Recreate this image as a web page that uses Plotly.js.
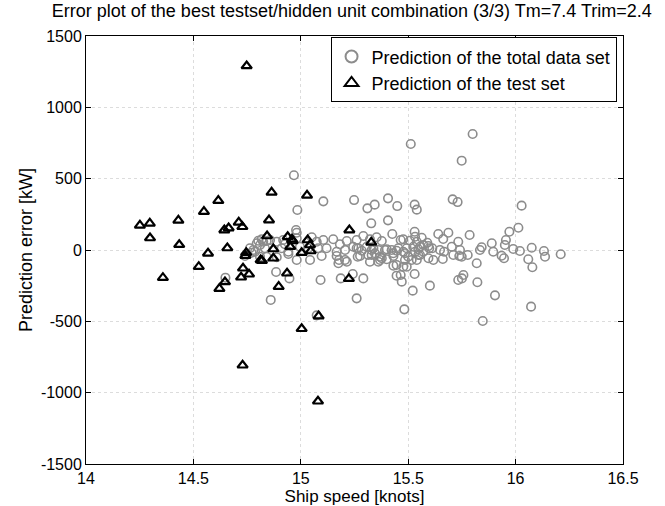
<!DOCTYPE html>
<html>
<head>
<meta charset="utf-8">
<script src="https://cdn.plot.ly/plotly-3.0.1.min.js"></script>
<style>html,body{margin:0;padding:0;background:#fff;}#chart{width:665px;height:506px;}</style>
</head>
<body>
<div id="chart"></div>
<script>
// Prediction of the total data set (ship speed [knots], prediction error [kW])
const totalX = [14.649,14.74,14.763,14.771,14.779,14.787,14.795,14.802,14.81,14.81,14.818,14.825,14.833,14.841,14.841,14.857,14.86,14.885,14.888,14.888,14.911,14.918,14.926,14.942,14.942,14.947,14.968,14.978,14.981,14.981,14.984,14.981,14.996,
15.035,15.043,15.051,15.074,15.074,15.081,15.092,15.097,15.105,15.105,15.12,15.151,15.167,15.167,15.175,15.178,15.182,15.186,15.206,15.206,15.214,15.214,15.242,15.244,15.248,15.26,15.26,15.26,15.265,15.268,15.276,15.284,15.291,15.291,15.307,15.31,15.314,15.322,15.322,15.328,15.33,15.33,15.338,15.344,15.345,15.353,15.361,15.361,15.369,15.369,15.377,15.377,15.392,15.4,15.4,15.406,15.406,15.423,15.426,15.431,15.431,15.431,15.446,15.446,15.446,15.449,15.454,15.465,15.465,15.47,15.477,15.477,15.477,15.482,15.485,15.485,15.493,15.493,15.5,15.508,15.512,15.516,15.521,15.524,15.53,15.53,15.53,15.532,15.532,15.54,15.54,15.54,15.547,15.547,15.555,15.555,15.563,15.57,15.57,15.589,15.594,15.594,15.598,15.601,15.612,15.617,15.640,15.648,15.661,15.663,15.667,15.687,15.703,15.707,15.710,15.730,15.733,15.733,15.738,15.741,15.749,15.749,15.750,15.757,15.777,15.786,15.800,15.819,15.822,15.834,15.842,15.847,15.889,15.896,15.904,15.935,15.946,15.950,15.955,15.971,15.989,16.013,16.020,16.028,16.059,16.072,16.075,16.078,16.132,16.137,16.21];
const totalY = [-194,-42,12,-19,0,-12,47,65,35,-47,75,58,12,63,-47,70,-350,-154,58,-51,12,70,40,-12,-28,-199,524,140,121,82,280,-70,23,
12,-70,89,58,-458,12,-210,-42,341,70,12,75,-12,-42,-93,-70,40,-199,0,-70,63,-82,-168,23,350,70,12,-339,-47,12,-42,-5,98,-199,23,292,-35,75,-82,187,0,-35,12,318,-23,89,0,-82,-47,-70,63,-58,0,5,-65,362,208,0,112,-23,-42,-110,-5,-105,-180,308,12,70,-175,-222,75,-12,-117,-416,-23,-70,12,-117,-47,65,743,-70,-285,23,318,128,-168,-12,93,283,58,-70,5,-35,23,-35,86,35,-12,51,28,-58,12,-250,12,-70,112,0,-63,77,-12,121,23,355,-35,336,58,-210,-42,0,626,-47,-199,-175,-35,105,813,-93,-226,0,19,-498,47,-12,-318,-40,-58,35,70,128,7,156,-7,311,-65,-397,16,-121,-7,-47,-30];

// Prediction of the test set
const testX = [14.748,14.251,14.297,14.298,14.358,14.430,14.434,14.525,14.549,14.568,14.616,14.621,14.644,14.647,14.658,14.664,14.711,14.722,14.728,14.729,14.731,14.742,14.746,14.759,14.813,14.819,14.843,14.852,14.864,14.872,14.872,14.897,14.936,14.939,14.951,14.959,14.962,15.004,15.004,15.029,15.032,15.043,15.046,15.083,15.080,15.226,15.224,15.328];
const testY = [1290,173,187,84,-194,208,37,-117,269,-23,346,-271,140,-224,14,154,194,-191,163,-808,-128,-40,-19,-170,-70,-75,98,210,404,7,-58,-257,-163,93,23,75,63,-19,-552,383,70,35,-7,-463,-1060,140,-201,54];

const titleText = 'Error plot of the best testset/hidden unit combination (3/3) Tm=7.4 Trim=2.4';
const xTitle = 'Ship speed [knots]';
const yTitle = 'Prediction error [kW]';
const xTicks = [14, 14.5, 15, 15.5, 16, 16.5];
const yTicks = [-1500, -1000, -500, 0, 500, 1000, 1500];

const FONT = 'Liberation Sans, Arial, sans-serif';

const traces = [
  {
    x: totalX, y: totalY, type: 'scatter', mode: 'markers',
    name: 'Prediction of the total data set',
    marker: {symbol: 'circle-open', size: 8.5, color: '#8c8c8c', line: {width: 1.6, color: '#8c8c8c'}}
  },
  {
    x: testX, y: testY, type: 'scatter', mode: 'markers',
    name: 'Prediction of the test set',
    marker: {symbol: 'triangle-up-open', size: 9, color: '#000', line: {width: 2.2, color: '#000'}}
  }
];

const axisCommon = {
  showline: true, linecolor: '#000', linewidth: 1, mirror: 'ticks',
  ticks: 'inside', ticklen: 5, tickcolor: '#000', tickwidth: 1,
  showgrid: true, gridcolor: '#dcdcdc', griddash: 'dot', gridwidth: 1,
  zeroline: false, tickfont: {size: 16, color: '#000', family: FONT}
};

const layout = {
  width: 665, height: 506,
  margin: {l: 86, r: 42, t: 36, b: 42, pad: 0},
  paper_bgcolor: '#fff', plot_bgcolor: '#fff',
  font: {family: FONT, size: 18, color: '#000'},
  title: {text: titleText, font: {size: 18, color: '#000', family: FONT}, xref: 'paper', x: 0.495, xanchor: 'center', yref: 'container', y: 0.992, yanchor: 'top'},
  xaxis: Object.assign({}, axisCommon, {
    range: [14, 16.5], tickvals: xTicks, ticktext: xTicks.map(String),
    ticklabelstandoff: 0,
    title: {text: xTitle, font: {size: 17, color: '#000', family: FONT}, standoff: 4}
  }),
  yaxis: Object.assign({}, axisCommon, {
    range: [-1500, 1500], tickvals: yTicks, ticktext: yTicks.map(String),
    title: {text: yTitle, font: {size: 18, color: '#000', family: FONT}, standoff: 3}
  }),
  showlegend: true,
  legend: {
    x: 0.988, xanchor: 'right', y: 0.997, yanchor: 'top',
    bgcolor: '#fff', bordercolor: '#000', borderwidth: 1,
    font: {size: 18, color: '#000', family: FONT},
    itemsizing: 'constant', tracegroupgap: 0
  }
};

Plotly.newPlot('chart', traces, layout, {displayModeBar: false, staticPlot: true});
</script>
</body>
</html>
